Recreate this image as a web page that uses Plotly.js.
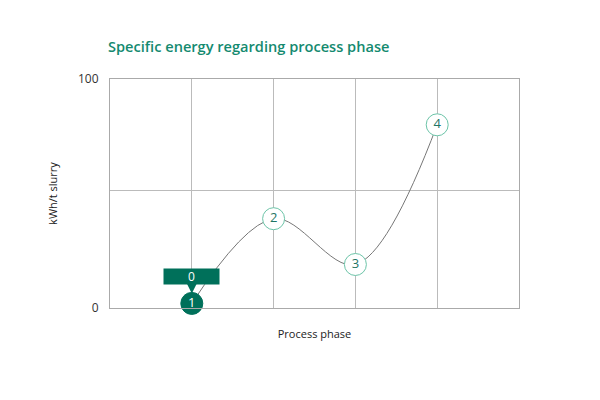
<!DOCTYPE html>
<html><head><meta charset="utf-8">
<script src="https://cdn.plot.ly/plotly-3.0.1.min.js"></script>
<style>html,body{margin:0;padding:0;background:#fff}#chart{width:600px;height:400px}</style>
</head><body><div id="chart"></div>
<script>
const phases = [1, 2, 3, 4];
const energy = [2, 39, 19, 80];
const pointLabels = ['1', '2', '3', '4'];
const startLabel = '0';
const yTickVals = [0, 51.5, 100];
const yTickText = ['0', '', '100'];

const dark = '#00705a';
const light = '#6cc4a8';

const trace = {
  x: phases, y: energy, text: pointLabels,
  mode: 'lines+markers+text', type: 'scatter', cliponaxis: false,
  line: {shape: 'spline', smoothing: 1, color: '#777', width: 1},
  marker: {size: 22, color: ['#00705a', '#fff', '#fff', '#fff'],
           line: {color: [dark, light, light, light], width: 1}},
  textposition: 'middle center',
  textfont: {family: 'Open Sans', size: 13, color: ['#fff', '#1f7565', '#1f7565', '#1f7565']},
  hoverinfo: 'none'
};

const layout = {
  width: 600, height: 400,
  margin: {l: 110, r: 81, t: 79, b: 92},
  paper_bgcolor: '#fff', plot_bgcolor: '#fff',
  showlegend: false,
  font: {family: 'Open Sans', color: '#333'},
  title: {text: 'Specific energy regarding process phase', xref: 'container', yref: 'container',
          x: 108/600, xanchor: 'left', y: 1 - 47/400, yanchor: 'middle',
          font: {family: 'Open Sans', size: 14.6, weight: 600, color: '#148a6f'}},
  xaxis: {range: [0, 5], tickvals: [1, 2, 3, 4], showticklabels: false, ticks: '',
          showgrid: true, gridcolor: '#bbb', gridwidth: 1, zeroline: false,
          showline: true, linecolor: '#aaa', mirror: true,
          title: {text: 'Process phase', font: {size: 11, color: '#222'}, standoff: 22}},
  yaxis: {range: [0, 100], tickvals: yTickVals, ticktext: yTickText, ticks: '',
          ticklabelstandoff: 8, tickfont: {size: 12, color: '#333'},
          showgrid: true, gridcolor: '#bbb', gridwidth: 1, zeroline: false,
          showline: true, linecolor: '#aaa', mirror: true,
          title: {text: 'kWh/t slurry', font: {size: 11, color: '#222'}, standoff: 18}},
  annotations: [{
    x: phases[0], y: energy[0], xref: 'x', yref: 'y', text: startLabel,
    showarrow: true, ax: 0, ay: -27, arrowhead: 2, arrowsize: 1, arrowwidth: 2,
    arrowcolor: dark, standoff: 10, bgcolor: dark, width: 51, height: 11, borderpad: 2,
    font: {family: 'Open Sans', size: 12, color: '#fff'}
  }]
};

Plotly.newPlot('chart', [trace], layout, {displayModeBar: false, staticPlot: true});
</script></body></html>
